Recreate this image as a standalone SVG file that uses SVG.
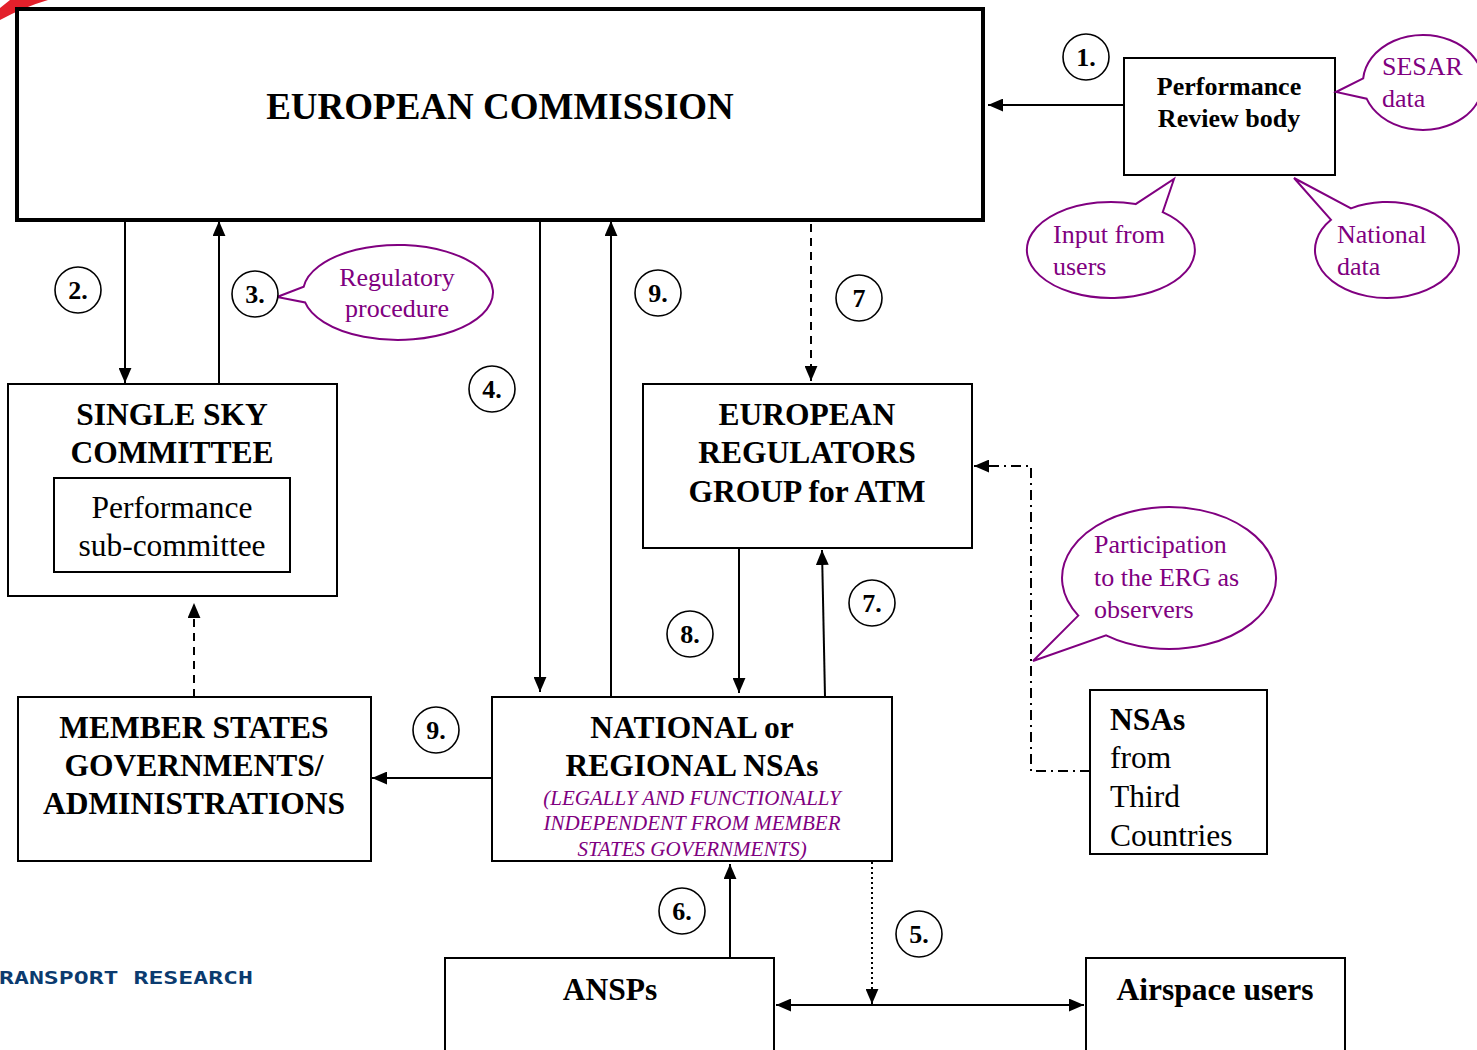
<svg xmlns="http://www.w3.org/2000/svg" width="1477" height="1050" viewBox="0 0 1477 1050">
<style>
  .box { fill: #fff; stroke: #000; stroke-width: 2; }
  .b { font-family: "Liberation Serif", "Times New Roman", serif; font-weight: bold; font-size: 31.5px; fill: #000; }
  .r { font-family: "Liberation Serif", "Times New Roman", serif; font-size: 31.5px; fill: #000; }
  .c { text-anchor: middle; }
  .ec { font-size: 37px; }
  .prb { font-size: 26px; }
  .num { font-family: "Liberation Serif", "Times New Roman", serif; font-weight: bold; font-size: 26px; text-anchor: middle; fill: #000; }
  .ncirc { fill: #fff; stroke: #000; stroke-width: 1.6; }
  .call { fill: #fff; stroke: #800080; stroke-width: 2; }
  .pt { font-family: "Liberation Serif", "Times New Roman", serif; font-size: 26px; fill: #800080; }
  .it { font-family: "Liberation Serif", "Times New Roman", serif; font-style: italic; font-size: 21px; fill: #800080; text-anchor: middle; }
  .ln { fill: none; stroke: #000; stroke-width: 2; }
</style>
<defs>
  <marker id="arr" viewBox="0 0 14 12" refX="14" refY="6" markerWidth="15" markerHeight="13" markerUnits="userSpaceOnUse" orient="auto-start-reverse">
    <path d="M0,0 L14,6 L0,12 Z" fill="#000"/>
  </marker>
</defs>
<rect width="1477" height="1050" fill="#fff"/>
<path d="M10,0 L48,0 Q24,7 0,20 L0,8 Z" fill="#e3202b"/>

<g id="connectors">
  <line class="ln" x1="1124" y1="105" x2="988" y2="105" marker-end="url(#arr)"/>
  <line class="ln" x1="125" y1="222" x2="125" y2="383" marker-end="url(#arr)"/>
  <line class="ln" x1="219" y1="384" x2="219" y2="221" marker-end="url(#arr)"/>
  <line class="ln" x1="540" y1="222" x2="540" y2="692" marker-end="url(#arr)"/>
  <line class="ln" x1="611" y1="697" x2="611" y2="221" marker-end="url(#arr)"/>
  <line class="ln" x1="811" y1="224" x2="811" y2="381" stroke-dasharray="8,6" marker-end="url(#arr)"/>
  <path class="ln" d="M1090,771 L1031,771 L1031,466 L974,466" stroke-width="1.6" stroke-dasharray="10,5,2,5" marker-end="url(#arr)"/>
  <line class="ln" x1="739" y1="549" x2="739" y2="693" marker-end="url(#arr)"/>
  <line class="ln" x1="825" y1="697" x2="822" y2="550" marker-end="url(#arr)"/>
  <line class="ln" x1="194" y1="697" x2="194" y2="603" stroke-dasharray="8,6" marker-end="url(#arr)"/>
  <line class="ln" x1="492" y1="778" x2="372" y2="778" marker-end="url(#arr)"/>
  <line class="ln" x1="730" y1="958" x2="730" y2="864" marker-end="url(#arr)"/>
  <line class="ln" x1="872" y1="862" x2="872" y2="1004" stroke-width="1.6" stroke-dasharray="2,3" marker-end="url(#arr)"/>
  <line class="ln" x1="776" y1="1005" x2="1084" y2="1005" marker-start="url(#arr)" marker-end="url(#arr)"/>
</g>

<g id="european-commission">
  <rect x="17" y="9" width="966" height="211" fill="#fff" stroke="#000" stroke-width="4"/>
  <text class="b c ec" x="500" y="119">EUROPEAN COMMISSION</text>
</g>

<g id="performance-review-body">
  <rect class="box" x="1124" y="58" width="211" height="117"/>
  <text class="b c prb" x="1229" y="95">Performance</text>
  <text class="b c prb" x="1229" y="127">Review body</text>
</g>

<g id="callout-sesar">
  <path class="call" d="M1363.2,78.4 A60,47.5 0 1 1 1366.6,98.7 L1336,92 Z"/>
  <text class="pt" x="1382" y="75">SESAR</text>
  <text class="pt" x="1382" y="107">data</text>
</g>

<g id="callout-input">
  <path class="call" d="M1162.7,212.2 A84,48 0 1 1 1135.6,204.1 L1174,179 Z"/>
  <text class="pt" x="1053" y="243">Input from</text>
  <text class="pt" x="1053" y="275">users</text>
</g>

<g id="callout-national">
  <path class="call" d="M1351,208.4 A72,48 0 1 1 1331,219.8 L1294,178 Z"/>
  <text class="pt" x="1337" y="243">National</text>
  <text class="pt" x="1337" y="275">data</text>
</g>

<g id="callout-regulatory">
  <path class="call" d="M303.7,286.7 A95,47.5 0 1 1 305.1,302.4 L277,297 Z"/>
  <text class="pt c" x="397" y="286">Regulatory</text>
  <text class="pt c" x="397" y="317">procedure</text>
</g>

<g id="callout-participation">
  <path class="call" d="M1078.3,615.6 A107,71 0 1 1 1106.1,635.4 L1033,661 Z"/>
  <text class="pt" x="1094" y="553">Participation</text>
  <text class="pt" x="1094" y="586">to the ERG as</text>
  <text class="pt" x="1094" y="618">observers</text>
</g>

<g id="single-sky-committee">
  <rect class="box" x="8" y="384" width="329" height="212"/>
  <text class="b c" x="172" y="425">SINGLE SKY</text>
  <text class="b c" x="172" y="463">COMMITTEE</text>
</g>
<g id="performance-sub-committee">
  <rect class="box" x="54" y="478" width="236" height="94"/>
  <text class="r c" x="172" y="518">Performance</text>
  <text class="r c" x="172" y="556">sub-committee</text>
</g>

<g id="erg">
  <rect class="box" x="643" y="384" width="329" height="164"/>
  <text class="b c" x="807" y="425">EUROPEAN</text>
  <text class="b c" x="807" y="463">REGULATORS</text>
  <text class="b c" x="807" y="502">GROUP for ATM</text>
</g>

<g id="nsas-third-countries">
  <rect class="box" x="1090" y="690" width="177" height="164"/>
  <text class="b" x="1110" y="730">NSAs</text>
  <text class="r" x="1110" y="768">from</text>
  <text class="r" x="1110" y="807">Third</text>
  <text class="r" x="1110" y="846">Countries</text>
</g>

<g id="member-states">
  <rect class="box" x="18" y="697" width="353" height="164"/>
  <text class="b c" x="194" y="738">MEMBER STATES</text>
  <text class="b c" x="194" y="776">GOVERNMENTS/</text>
  <text class="b c" x="194" y="814">ADMINISTRATIONS</text>
</g>

<g id="national-nsas">
  <rect class="box" x="492" y="697" width="400" height="164"/>
  <text class="b c" x="692" y="738">NATIONAL or</text>
  <text class="b c" x="692" y="776">REGIONAL NSAs</text>
  <text class="it" x="692" y="805">(LEGALLY AND FUNCTIONALLY</text>
  <text class="it" x="692" y="830">INDEPENDENT FROM MEMBER</text>
  <text class="it" x="692" y="856">STATES GOVERNMENTS)</text>
</g>

<g id="ansps">
  <rect class="box" x="445" y="958" width="329" height="100"/>
  <text class="b c" x="610" y="1000">ANSPs</text>
</g>

<g id="airspace-users">
  <rect class="box" x="1086" y="958" width="259" height="100"/>
  <text class="b c" x="1215" y="1000">Airspace users</text>
</g>

<g id="labels">
  <circle class="ncirc" cx="1086" cy="57" r="23"/><text class="num" x="1086" y="66">1.</text>
  <circle class="ncirc" cx="78" cy="290" r="23"/><text class="num" x="78" y="299">2.</text>
  <circle class="ncirc" cx="255" cy="294" r="23"/><text class="num" x="255" y="303">3.</text>
  <circle class="ncirc" cx="492" cy="389" r="23"/><text class="num" x="492" y="398">4.</text>
  <circle class="ncirc" cx="658" cy="293" r="23"/><text class="num" x="658" y="302">9.</text>
  <circle class="ncirc" cx="859" cy="298" r="23"/><text class="num" x="859" y="307">7</text>
  <circle class="ncirc" cx="690" cy="634" r="23"/><text class="num" x="690" y="643">8.</text>
  <circle class="ncirc" cx="872" cy="603" r="23"/><text class="num" x="872" y="612">7.</text>
  <circle class="ncirc" cx="436" cy="730" r="23"/><text class="num" x="436" y="739">9.</text>
  <circle class="ncirc" cx="682" cy="911" r="23"/><text class="num" x="682" y="920">6.</text>
  <circle class="ncirc" cx="919" cy="934" r="23"/><text class="num" x="919" y="943">5.</text>
</g>

<text x="-1" y="984" font-family="DejaVu Sans Mono, monospace" font-weight="bold" font-size="17" fill="#0b3b6f" textLength="254" lengthAdjust="spacingAndGlyphs">RANSPORT RESEARCH</text>
</svg>
